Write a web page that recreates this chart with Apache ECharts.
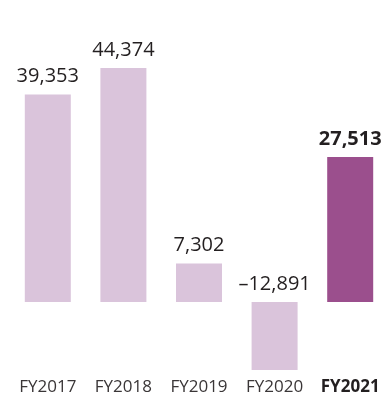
<!DOCTYPE html>
<html>
<head>
<meta charset="utf-8">
<script src="https://cdn.jsdelivr.net/npm/echarts@6/dist/echarts.min.js"></script>
<style>
  html, body { margin: 0; padding: 0; background: #fff; }
  #chart { width: 389px; height: 396px; }
</style>
</head>
<body>
<div id="chart"></div>
<script>
// Fiscal years and yearly values
const categories = ['FY2017', 'FY2018', 'FY2019', 'FY2020', 'FY2021'];
const values = [39353, 44374, 7302, -12891, 27513];
const highlightIndex = 4;

const LIGHT = '#dac4db';
const DARK = '#9b4f8d';
const TEXT = '#231f20';
const AXIS_TEXT = '#3a3637';
const FONT = '"Open Sans", sans-serif';

const fmt = v => (v < 0 ? '\u2013' : '') + Math.abs(v).toLocaleString('en-US');

const chart = echarts.init(document.getElementById('chart'), null, { renderer: 'canvas' });

chart.setOption({
  animation: false,
  grid: { left: 10, right: 1, top: 64.7, bottom: 25.5 },
  xAxis: {
    type: 'category',
    data: categories,
    axisLine: { show: false, onZero: false },
    axisTick: { show: false },
    axisLabel: {
      interval: 0,
      margin: 8,
      fontFamily: FONT,
      fontSize: 17,
      color: AXIS_TEXT,
      formatter: (v, i) => i === highlightIndex ? '{b|' + v + '}' : v,
      rich: { b: { fontFamily: FONT, fontSize: 17, fontWeight: 'bold', color: TEXT } }
    }
  },
  yAxis: {
    type: 'value',
    min: -13000,
    max: 45000,
    show: false,
    splitLine: { show: false }
  },
  series: [{
    type: 'bar',
    barWidth: 46,
    data: values.map((v, i) => ({
      value: v,
      itemStyle: { color: i === highlightIndex ? DARK : LIGHT },
      label: {
        show: true,
        position: 'top',
        distance: 8,
        fontFamily: FONT,
        fontSize: 20,
        fontWeight: i === highlightIndex ? 'bold' : 'normal',
        color: TEXT,
        formatter: () => fmt(v)
      }
    }))
  }]
});
</script>
</body>
</html>
